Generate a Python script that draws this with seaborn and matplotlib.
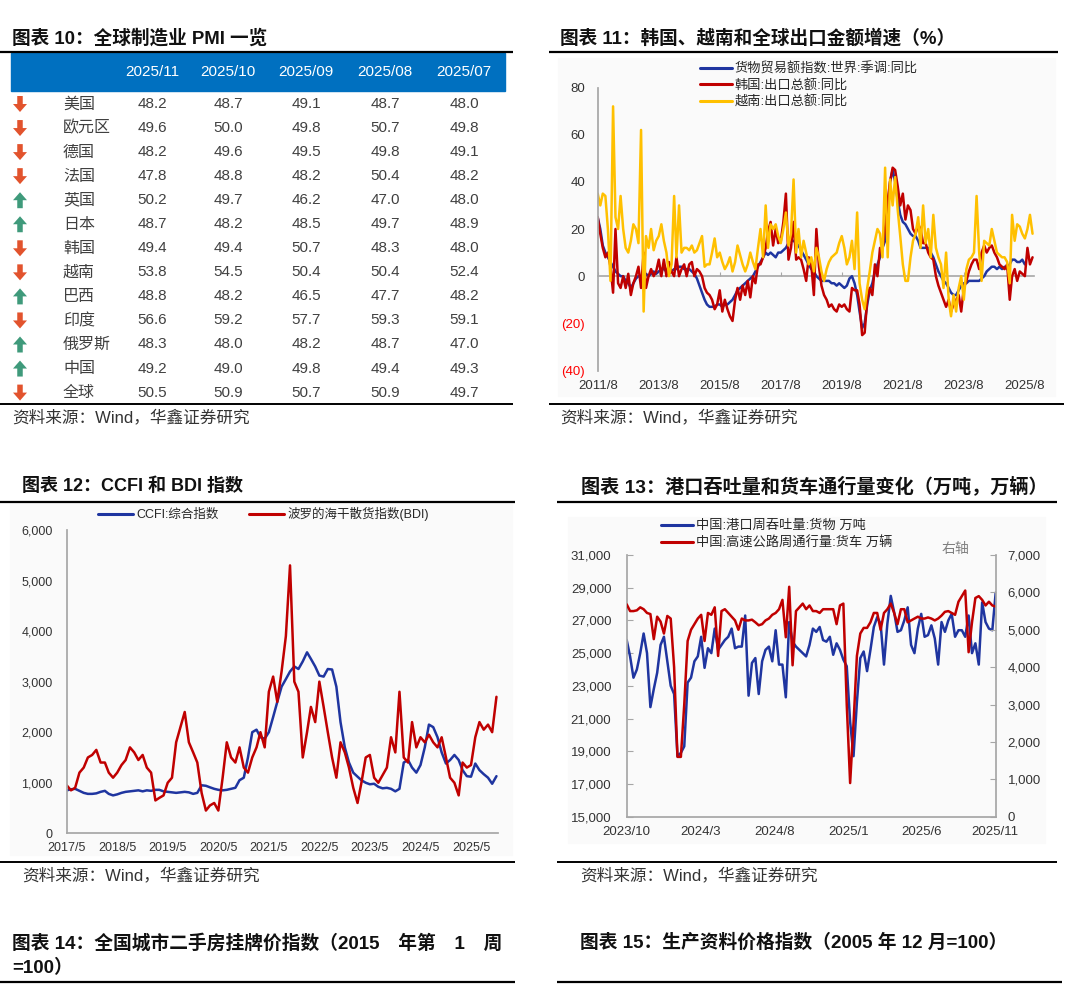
import numpy as np
import pandas as pd
import matplotlib
matplotlib.use("Agg")
import matplotlib.pyplot as plt
from matplotlib.lines import Line2D
from matplotlib.patches import Rectangle, FancyArrow
from matplotlib.ticker import NullFormatter
import matplotlib.dates as mdates
import seaborn as sns

sns.set_theme(style="white")
plt.rcParams["font.family"] = ["Liberation Sans", "Noto Sans CJK SC", "DejaVu Sans"]
plt.rcParams["axes.unicode_minus"] = False

BLUE = "#1F35A0"
RED = "#C00000"
YELLOW = "#FFC000"
GRAY = "#A6A6A6"
TXT = "#333333"
BG = "#FAFAFA"

# ---------------- data: 图表10 PMI table ----------------
countries = ["美国", "欧元区", "德国", "法国", "英国", "日本", "韩国", "越南", "巴西", "印度", "俄罗斯", "中国", "全球"]
months = ["2025/11", "2025/10", "2025/09", "2025/08", "2025/07"]
pmi_2025_11 = [48.2, 49.6, 48.2, 47.8, 50.2, 48.7, 49.4, 53.8, 48.8, 56.6, 48.3, 49.2, 50.5]
pmi_2025_10 = [48.7, 50.0, 49.6, 48.8, 49.7, 48.2, 49.4, 54.5, 48.2, 59.2, 48.0, 49.0, 50.9]
pmi_2025_09 = [49.1, 49.8, 49.5, 48.2, 46.2, 48.5, 50.7, 50.4, 46.5, 57.7, 48.2, 49.8, 50.7]
pmi_2025_08 = [48.7, 50.7, 49.8, 50.4, 47.0, 49.7, 48.3, 50.4, 47.7, 59.3, 48.7, 49.4, 50.9]
pmi_2025_07 = [48.0, 49.8, 49.1, 48.2, 48.0, 48.9, 48.0, 52.4, 48.2, 59.1, 47.0, 49.3, 49.7]

# ---------------- data: 图表11 exports yoy (monthly from 2011/8) ----------------
world_yoy = [
    25, 20, 13, 10, 8, 6, 4, 2, 1, 0,
    0, -2, -3, -5, -3, -1, 0, 0, 0, 1,
    0, 1, 2, 1, 2, 3, 3, 2, 1, 2,
    3, 3, 4, 4, 3, 3, 3, 2, 1, -1,
    -4, -7, -10, -12, -13, -13, -13, -12, -12, -13,
    -12, -12, -11, -10, -8, -6, -5, -4, -3, -2,
    -1, 0, 2, 4, 6, 8, 10, 9, 10, 9,
    8, 10, 10, 11, 12, 14, 15, 15, 14, 13,
    11, 9, 7, 5, 3, 2, 0, -1, -2, -2,
    -2, -2, -3, -3, -4, -3, -4, -5, -4, -1,
    0, -3, -8, -15, -22, -20, -12, -6, -3, 2,
    5, 8, 12, 15, 28, 40, 45, 40, 32, 26,
    23, 22, 20, 18, 17, 17, 15, 12, 12, 12,
    12, 10, 8, 5, 2, 0, -2, -3, -5, -7,
    -8, -8, -6, -4, -3, -3, -2, -2, -2, -2,
    -2, -1, 0, 2, 3, 4, 4, 3, 4, 3,
    4, 3, 5, 7, 7, 6, 6, 7, 5,
]
korea_yoy = [
    25, 18, 12, 8, 10, 4, -7, 20, -3, -5,
    0, -5, 1, -8, -3, 0, 4, -5, 10, -5,
    0, 3, 0, 2, 7, 0, 7, 0, 6, 2,
    0, 8, 0, 3, 5, 0, 5, 6, 0, 3,
    2, 0, -5, -7, -8, -10, -14, -12, -6, -15,
    -10, -14, -17, -19, -10, -5, -10, -4, -8, -2,
    -9, 0, -3, 5, 5, 8, 12, 19, 23, 13,
    20, 14, 15, 23, 35, 7, 12, 23, 7, 8,
    7, 3, -2, 8, 5, -8, 20, 4, -4, -8,
    -10, -13, -12, -14, -15, -12, -13, -12, -14, -15,
    -5, -6, -6, -12, -25, -24, -10, -5, -8, 5,
    0, 12, 12, 20, 32, 40, 46, 45, 38, 30,
    35, 24, 30, 28, 20, 18, 22, 20, 14, 14,
    10, 8, 7, 0, -4, -7, -10, -13, -10, -15,
    -12, -10, -8, -15, -5, -2, 2, 5, 7, 7,
    3, 10, 13, 10, 12, 13, 10, 8, 5, 4,
    3, 5, -10, 0, 3, -2, 2, 1, 0, 12,
    5, 8,
]
vietnam_yoy = [
    35, 30, 35, 34, 20, -2, 72, 25, 20, 34,
    20, 12, 10, 15, 22, 20, 14, 62, -15, 17,
    12, 20, 11, 15, 17, 22, 15, 10, 0, 5,
    34, 8, 30, 10, 12, 12, 11, 13, 10, 11,
    14, 17, 4, 5, 5, 10, 16, 8, 10, 6,
    3, 5, 8, 2, 6, 13, 9, 5, 2, 5,
    10, 6, 3, 12, 20, 8, 30, 12, 22, 20,
    22, 17, 14, 20, 27, 13, 18, 41, 10, 20,
    8, 15, 10, 5, 8, 2, 12, 8, 2, -2,
    3, 6, 8, 9, 10, 14, 17, 12, 5, 8,
    15, 3, 27, -3, -10, -14, -5, 2, 10, 15,
    20, 18, 8, 46, 8, 41, 30, 42, 28, 17,
    5, -2, -2, 8, 15, 18, 25, 12, 30, 14,
    20, 8, 26, 12, 8, 5, -5, 10, -10, -17,
    -8, -15, -5, 0, -10, 3, 7, 8, 10, 34,
    10, -2, 15, 14, 13, 20, 15, 10, 9, 8,
    8, 6, -3, 26, 15, 22, 21, 18, 16, 20,
    26, 18,
]
labels11 = ["货物贸易额指数:世界:季调:同比", "韩国:出口总额:同比", "越南:出口总额:同比"]

# ---------------- data: 图表12 CCFI & BDI (monthly from 2017/5) ----------------
ccfi = [
    850, 870, 880, 840, 800, 780, 780, 790, 820, 840,
    780, 750, 770, 800, 820, 830, 840, 850, 830, 850,
    840, 860, 860, 830, 820, 810, 800, 810, 820, 810,
    780, 800, 950, 940, 910, 880, 860, 850, 860, 880,
    900, 1050, 1100, 1500, 2000, 2050, 1900, 1870, 2000, 2300,
    2600, 2900, 3050, 3200, 3300, 3250, 3400, 3580, 3450, 3300,
    3120, 3100, 3250, 3240, 2900, 2200, 1700, 1400, 1200, 1120,
    1050, 1000, 970, 980, 920, 890, 900, 880, 830, 880,
    1400, 1450, 1300, 1200, 1350, 1700, 2150, 2100, 1900, 1600,
    1380, 1450, 1550, 1450, 1250, 1130, 1120, 1380, 1250, 1170,
    1100, 980, 1130,
]
bdi = [
    950, 850, 900, 1200, 1300, 1500, 1550, 1650, 1400, 1400,
    1200, 1100, 1200, 1350, 1450, 1700, 1600, 1450, 1550, 1300,
    1200, 650, 700, 750, 1000, 1100, 1800, 2100, 2400, 1800,
    1600, 1400, 800, 450, 550, 600, 450, 1100, 1800, 1500,
    1400, 1700, 1300, 1200, 1500, 1700, 2000, 1700, 2800, 3100,
    2600, 3200, 3900, 5300, 3000, 2800, 1500, 2000, 2500, 2200,
    3000, 2500, 2000, 1500, 1100, 1800, 1600, 1300, 900, 600,
    1000, 1500, 1550, 1100, 1000, 1150, 1300, 1900, 1600, 2800,
    1500, 1400, 2200, 1700, 1900, 1800, 1950, 1800, 1700, 1900,
    1500, 1100, 1000, 750, 1400, 1300, 1350, 1900, 2200, 2050,
    2150, 2000, 2700,
]
labels12 = ["CCFI:综合指数", "波罗的海干散货指数(BDI)"]

# ---------------- data: 图表13 port & trucks (weekly from 2023/10) ----------------
port = [
    25800, 24800, 23500, 24000, 25000, 26200, 25000, 21700, 22800, 23800,
    25500, 26000, 24500, 23000, 22500, 18700, 18900, 19300, 23200, 23500,
    24500, 24800, 26000, 24100, 25300, 25000, 26500, 25200, 25500, 25800,
    26000, 26500, 25300, 25400, 25400, 27300, 22400, 24400, 24700, 22500,
    24500, 25200, 25400, 24500, 26400, 24300, 24300, 22300, 26900, 25700,
    25400, 25200, 25000, 24800, 25500, 26500, 26300, 26600, 25800, 25700,
    26000, 24900, 25600, 25200, 24600, 24200, 20800, 18700, 22000, 24700,
    25100, 23900, 25200, 26600, 27200, 26800, 24300, 26800, 28500, 27500,
    26300, 26400, 27000, 27800, 25500, 25000, 26500, 27400, 26000, 26100,
    26700, 25900, 24300, 26900, 26300, 27000, 27400, 26000, 26400, 26400,
    26000, 27300, 25000, 25600, 24300, 28100, 26900, 26500, 26400, 28700,
]
truck = [
    5680, 5500, 5500, 5520, 5600, 5550, 5450, 5420, 4750, 5350,
    5220, 4900, 5370, 5300, 4000, 1600, 1600, 3000, 4700, 5000,
    5150, 5300, 5400, 4700, 5450, 5400, 5600, 4300, 5500, 5550,
    5450, 5350, 5250, 5000, 5300, 5250, 5250, 5270, 5200, 5120,
    5150, 5250, 5300, 5400, 5450, 5550, 5800, 4800, 6150, 4050,
    5500, 5600, 5700, 5550, 5650, 5500, 5500, 5450, 5550, 5550,
    5550, 5550, 5150, 5650, 5700, 3000, 900, 2500, 4300, 4900,
    5050, 5050, 5200, 5450, 5450, 5000, 5450, 5550, 5700, 5450,
    5150, 5550, 5550, 5200, 5250, 5300, 5350, 5300, 5300, 5330,
    5300, 5250, 5300, 5380, 5480, 5500, 5450, 5400, 5750, 5900,
    6050, 4400, 5200, 5850, 5900, 5800, 5650, 5750, 5650, 5620,
]
labels13 = ["中国:港口周吞吐量:货物 万吨", "中国:高速公路周通行量:货车 万辆"]

source = "资料来源：Wind，华鑫证券研究"

# ---------------- page ----------------
W, H = 1080, 990
fig = plt.figure(figsize=(W / 100, H / 100), dpi=100)
fig.patch.set_facecolor("white")

page = fig.add_axes([0, 0, 1, 1])
page.set_xlim(0, W)
page.set_ylim(H, 0)
page.axis("off")


def px_rect(x0, y0, x1, y1):
    return [x0 / W, 1 - y1 / H, (x1 - x0) / W, (y1 - y0) / H]


def rule(x0, x1, y, lw=1.6):
    page.plot([x0, x1], [y, y], color="black", lw=lw, solid_capstyle="butt")


def title(x, y, s, size=13.4):
    page.text(x, y, s, fontsize=size, fontweight="bold", color="#111111",
              ha="left", va="center")


# chart backgrounds
for (x0, y0, x1, y1) in [(558, 58, 1055, 396), (10, 503, 512, 855), (568, 517, 1045, 843)]:
    page.add_patch(Rectangle((x0, y0), x1 - x0, y1 - y0, color=BG, zorder=0))

# titles / rules / sources
title(12, 38, "图表 10：全球制造业 PMI 一览")
title(560, 38, "图表 11：韩国、越南和全球出口金额增速（%）")
title(22, 486, "图表 12：CCFI 和 BDI 指数", size=13)
title(581, 486, "图表 13：港口吞吐量和货车通行量变化（万吨，万辆）", size=13.8)
title(12, 943, "图表 14：全国城市二手房挂牌价指数（2015\u3000年第\u30001\u3000周", size=13.5)
title(12, 968, "=100）", size=13.5)
title(580, 943, "图表 15：生产资料价格指数（2005 年 12 月=100）", size=13.5)

rule(0, 513, 51.5)
rule(549, 1058, 51.5)
rule(0, 513, 403.5, lw=1.4)
rule(549, 1064, 403.5, lw=1.4)
rule(0, 515, 501.5)
rule(557, 1057, 501.5)
rule(0, 515, 862, lw=1.4)
rule(557, 1057, 862, lw=1.4)
rule(0, 515, 982)
rule(557, 1062, 982)

for (x, y) in [(12, 417), (560, 417), (22, 875), (580, 875)]:
    page.text(x, y, source, fontsize=12, color=TXT, ha="left", va="center")

# ---------------- 图表10 table ----------------
page.add_patch(Rectangle((10.5, 52.5), 494, 38.5, color="#0070C0", zorder=1))
pmi = [pmi_2025_11, pmi_2025_10, pmi_2025_09, pmi_2025_08, pmi_2025_07]
col_x = [152, 228, 306, 385, 464]
row_y0, row_h = 104, 24.05
for j, (m, vals) in enumerate(zip(months, pmi)):
    page.text(col_x[j], 72.5, m, color="white", fontsize=11, ha="center", va="center", zorder=2)
    for i, v in enumerate(vals):
        page.text(col_x[j], row_y0 + i * row_h, f"{v:.1f}", color="#404040",
                  fontsize=11, ha="center", va="center")
for i, name in enumerate(countries):
    y = row_y0 + i * row_h
    page.text(63, y, name, color="#404040", fontsize=11.5, ha="left", va="center")
    up = pmi_2025_11[i] > pmi_2025_10[i]
    if up:
        arr = FancyArrow(20, y + 8, 0, -16, width=5.5, head_width=14, head_length=8,
                         length_includes_head=True, color="#3F9A7B", lw=0)
    else:
        arr = FancyArrow(20, y - 8, 0, 16, width=5.5, head_width=14, head_length=8,
                         length_includes_head=True, color="#E2532D", lw=0)
    page.add_patch(arr)

# ---------------- 图表11 ----------------
ax11 = fig.add_axes(px_rect(597.7, 87.5, 1034.3, 370.5))
ax11.set_facecolor("none")
d11 = pd.date_range("2011-08-01", periods=len(korea_yoy), freq="MS")
sns.lineplot(x=d11[:len(world_yoy)], y=world_yoy, ax=ax11, color=BLUE, lw=1.8)
sns.lineplot(x=d11, y=korea_yoy, ax=ax11, color=RED, lw=1.8)
sns.lineplot(x=d11[:len(vietnam_yoy)], y=vietnam_yoy, ax=ax11, color=YELLOW, lw=1.8)
ax11.set_ylim(-40, 80)
ax11.set_xlim(pd.Timestamp("2011-08-01"), pd.Timestamp("2025-11-22"))
yt = [-40, -20, 0, 20, 40, 60, 80]
ax11.set_yticks(yt, labels=[f"({-v})" if v < 0 else f"{v}" for v in yt])
for lab, v in zip(ax11.get_yticklabels(), yt):
    lab.set_color("#FF0000" if v < 0 else TXT)
xt11 = pd.date_range("2011-08-01", "2025-08-01", freq="24MS")
ax11.set_xticks(xt11, labels=[f"{d.year}/{d.month}" for d in xt11])
ax11.tick_params(axis="x", length=0, pad=7, labelsize=9.5, labelcolor=TXT)
ax11.tick_params(axis="y", direction="in", length=4, width=0.8, color=GRAY, pad=9, labelsize=9.5)
for s in ["top", "right", "bottom"]:
    ax11.spines[s].set_visible(False)
ax11.spines["left"].set_color(GRAY)
ax11.set_xlabel("")
ax11.set_ylabel("")
zero = ax11.secondary_xaxis(1 / 3)
zero.set_xticks(mdates.date2num(xt11))
zero.xaxis.set_major_formatter(NullFormatter())
zero.tick_params(direction="in", length=3, color=GRAY, width=0.8)
for s in zero.spines.values():
    s.set_color(GRAY)
    s.set_linewidth(1.2)
fig.legend([Line2D([], [], color=c, lw=2.2) for c in (BLUE, RED, YELLOW)], labels11,
           loc="upper left", bbox_to_anchor=(700 / W, 1 - 62 / H), frameon=False,
           fontsize=9.5, handlelength=2.4, handletextpad=0.25, labelspacing=0.28,
           borderpad=0, borderaxespad=0)

# ---------------- 图表12 ----------------
ax12 = fig.add_axes(px_rect(66.7, 530, 497.7, 833.3))
ax12.set_facecolor("none")
d12 = pd.date_range("2017-05-01", periods=len(ccfi), freq="MS")
sns.lineplot(x=d12, y=ccfi, ax=ax12, color=BLUE, lw=1.8)
sns.lineplot(x=d12, y=bdi, ax=ax12, color=RED, lw=1.8)
ax12.set_ylim(0, 6000)
ax12.set_xlim(pd.Timestamp("2017-05-01"), pd.Timestamp("2025-11-10"))
yt12 = list(range(0, 6001, 1000))
ax12.set_yticks(yt12, labels=[f"{v:,}" for v in yt12])
xt12 = pd.date_range("2017-05-01", "2025-05-01", freq="12MS")
ax12.set_xticks(xt12, labels=[f"{d.year}/{d.month}" for d in xt12])
ax12.tick_params(axis="both", direction="in", length=4, width=0.8, color=GRAY,
                 labelsize=9, labelcolor=TXT)
ax12.tick_params(axis="y", pad=10)
ax12.tick_params(axis="x", pad=6.5)
for s in ["top", "right"]:
    ax12.spines[s].set_visible(False)
for s in ["left", "bottom"]:
    ax12.spines[s].set_color(GRAY)
ax12.set_xlabel("")
ax12.set_ylabel("")
fig.legend([Line2D([], [], color=c, lw=2.2) for c in (BLUE, RED)], labels12,
           loc="upper left", bbox_to_anchor=(98 / W, 1 - 507 / H), frameon=False, ncol=2,
           fontsize=9, handlelength=2.8, handletextpad=0.3, columnspacing=2.4,
           borderpad=0, borderaxespad=0)

# ---------------- 图表13 ----------------
ax13 = fig.add_axes(px_rect(626.7, 555, 995.7, 816.7))
ax13.set_facecolor("none")
d13 = pd.date_range("2023-10-01", periods=len(port), freq="7D")
sns.lineplot(x=d13, y=port, ax=ax13, color=BLUE, lw=1.8)
ax13r = ax13.twinx()
ax13r.set_facecolor("none")
sns.lineplot(x=d13, y=truck, ax=ax13r, color=RED, lw=1.8)
ax13.set_ylim(15000, 31000)
ax13r.set_ylim(0, 7000)
ax13.set_xlim(d13[0], d13[-1])
yt13 = list(range(15000, 31001, 2000))
ax13.set_yticks(yt13, labels=[f"{v:,}" for v in yt13])
yt13r = list(range(0, 7001, 1000))
ax13r.set_yticks(yt13r, labels=[f"{v:,}" for v in yt13r])
xt13 = pd.date_range("2023-10-01", "2025-11-01", freq="5MS")
ax13.set_xticks(xt13, labels=[f"{d.year}/{d.month}" for d in xt13])
ax13.tick_params(axis="both", direction="in", length=4, width=0.8, color=GRAY,
                 labelsize=9.5, labelcolor=TXT)
ax13.tick_params(axis="y", pad=11)
ax13.tick_params(axis="x", pad=7)
ax13r.tick_params(axis="y", direction="in", length=4, width=0.8, color=GRAY,
                  labelsize=9.5, labelcolor=TXT, pad=8.5)
for s in ["top", "right"]:
    ax13.spines[s].set_visible(False)
for s in ["left", "bottom"]:
    ax13.spines[s].set_color(GRAY)
for s in ["top", "left", "bottom"]:
    ax13r.spines[s].set_visible(False)
ax13r.spines["right"].set_color(GRAY)
for a in (ax13, ax13r):
    a.set_xlabel("")
    a.set_ylabel("")
fig.legend([Line2D([], [], color=c, lw=2.2) for c in (BLUE, RED)], labels13,
           loc="upper left", bbox_to_anchor=(661 / W, 1 - 520 / H), frameon=False,
           fontsize=9.5, handlelength=2.4, handletextpad=0.25, labelspacing=0.35,
           borderpad=0, borderaxespad=0)
page.text(942, 549, "右轴", fontsize=10, color="#7F7F7F", ha="left", va="center")

fig.savefig("out.png", dpi=100, facecolor="white")
